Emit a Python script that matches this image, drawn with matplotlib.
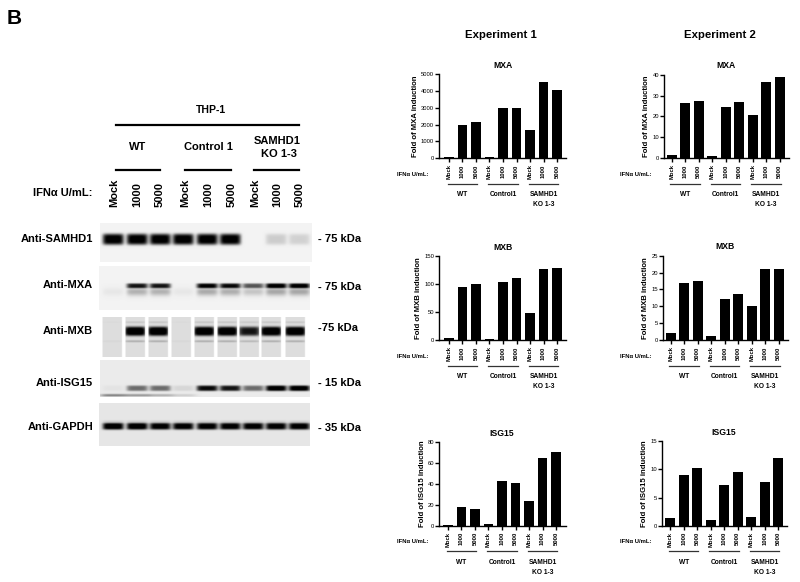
import matplotlib
matplotlib.use("Agg")
import matplotlib.pyplot as plt
import numpy as np

plt.rcParams["font.family"] = ["Liberation Sans", "DejaVu Sans"]

W, H = 800, 582

doses = ["Mock", "1000", "5000"] * 3
groups = ["WT", "Control1", "SAMHD1\nKO 1-3"]

mxa_exp1 = [40, 2000, 2180, 30, 2980, 2970, 1700, 4530, 4060]
mxa_exp2 = [1.3, 26.5, 27.5, 1.0, 24.8, 27.2, 20.5, 36.8, 39]
mxb_exp1 = [4, 95, 100, 2, 103, 110, 49, 126, 129]
mxb_exp2 = [2.2, 17, 17.4, 1.1, 12.3, 13.5, 10, 21, 21]
isg_exp1 = [0.3, 17.8, 15.5, 1.5, 42.5, 40.5, 24, 65, 70]
isg_exp2 = [1.4, 9, 10.2, 1.1, 7.2, 9.5, 1.5, 7.8, 12]

# band strength per lane on each blot, 0 = nothing, 1 = black
samhd1_bands = [1, 1, 1, 1, 1, 1, 0, 0.15, 0.13]
mxa_bands = [0, 0.85, 0.85, 0, 0.95, 0.9, 0.6, 1, 1]
mxb_bands = [0, 1, 1, 0, 1, 1, 0.8, 1, 1]
isg_bands = [0.03, 0.5, 0.5, 0.08, 0.9, 0.85, 0.5, 1, 1]
isg_lower = [0.45, 0.35, 0.25, 0.12, 0, 0, 0, 0, 0]
gapdh_bands = [1, 1, 0.95, 0.95, 0.95, 0.95, 0.95, 0.95, 0.95]
lanes = [113, 137, 160, 183, 207, 230, 253, 276, 299]
mxb_lanes = [112, 135, 158, 181, 204, 227, 249, 271, 295]

fig = plt.figure(figsize=(W / 100, H / 100), dpi=100)


def px_axes(x0, y0, x1, y1, **kw):
    return fig.add_axes([x0 / W, 1 - y1 / H, (x1 - x0) / W, (y1 - y0) / H], **kw)


page = px_axes(0, 0, W, H)
page.set_xlim(0, W)
page.set_ylim(H, 0)
page.axis("off")
page.set_zorder(5)


def blot(x0, y0, x1, y1, bands, band_y, band_h, side=(), bg=0.95, cols=lanes, strips=False, lower=None):
    xx, yy = np.meshgrid(np.arange(x0, x1, 0.5), np.arange(y0, y1, 0.5))
    img = np.full(xx.shape, bg)
    for i, (lane, level) in enumerate(zip(cols, bands)):
        dx = np.exp(-((xx - lane) / 10.5) ** 6)
        img -= level * dx * np.exp(-((yy - band_y) / band_h) ** 4)
        for dy, amount, h in side:
            img -= max(level, 0.15) * amount * dx * np.exp(-((yy - band_y - dy) / h) ** 2)
        if lower is not None:
            img -= lower[i] * np.exp(-((xx - lane) / 13) ** 4) * np.exp(-((yy - y1 + 2) / 1.2) ** 2)
    img = np.clip(img, 0, 1)
    if strips:
        gap = np.min([np.abs(xx - lane) for lane in cols], axis=0) > 9.8
        img[gap] = 1
    ax = px_axes(x0, y0, x1, y1)
    ax.imshow(img, cmap="gray", vmin=0, vmax=1, aspect="auto", interpolation="bilinear")
    ax.axis("off")


blot(100, 223, 312, 262, samhd1_bands, 239, 5.5)
blot(99, 266, 310, 310, mxa_bands, 285.5, 2.4, side=((6, 0.3, 4),), bg=0.95)
blot(102, 317, 308, 357, mxb_bands, 331, 4.6, side=((-9, 0.1, 1), (10, 0.2, 1)), bg=0.87, cols=mxb_lanes, strips=True)
blot(100, 360, 310, 397, isg_bands, 388, 2.8, bg=0.92, lower=isg_lower)
blot(99, 403, 310, 446, gapdh_bands, 426, 3.4, side=((-5, 0.08, 1),), bg=0.9)

page.text(7, 19, "B", fontsize=15, fontweight="bold", va="center")
page.text(211, 110, "THP-1", fontsize=7.5, fontweight="bold", ha="center", va="center")
page.plot([116, 299], [125, 125], color="black", lw=1.6)
for x, label in [(138, "WT"), (208, "Control 1")]:
    page.text(x, 147, label, fontsize=8, fontweight="bold", ha="center", va="center")
page.text(277, 140.5, "SAMHD1", fontsize=8, fontweight="bold", ha="center", va="center")
page.text(279, 154, "KO 1-3", fontsize=8, fontweight="bold", ha="center", va="center")
for a, b in [(116, 160), (185, 231), (254, 299)]:
    page.plot([a, b], [170, 170], color="black", lw=1.6)
page.text(92, 193, "IFNα U/mL:", fontsize=8, fontweight="bold", ha="right", va="center")
for x, label in zip([114, 137, 160, 185, 208, 232, 255, 277, 300], doses):
    page.text(x, 207, label, fontsize=8, fontweight="bold", rotation=90, ha="center", va="bottom")

row_labels = [("Anti-SAMHD1", 239), ("Anti-MXA", 285.5), ("Anti-MXB", 331.5), ("Anti-ISG15", 382.5), ("Anti-GAPDH", 426.5)]
for label, y in row_labels:
    page.text(93, y, label, fontsize=8, fontweight="bold", ha="right", va="center")
kda_labels = [("- 75 kDa", 239), ("- 75 kDa", 287), ("-75 kDa", 328), ("- 15 kDa", 383), ("- 35 kDa", 428)]
for label, y in kda_labels:
    page.text(318, y, label, fontsize=8, fontweight="bold", va="center")

page.text(501, 35, "Experiment 1", fontsize=8.2, fontweight="bold", ha="center", va="center")
page.text(720, 35, "Experiment 2", fontsize=8.2, fontweight="bold", ha="center", va="center")


def bar_panel(values, title, ylabel, ymax, ystep, left, right, top, bottom, first, ifn_x, title_x):
    step = 13.5
    ax = px_axes(left, top, right, bottom)
    x = np.arange(9)
    ax.bar(x, values, width=0.74, color="black")
    ax.set_xlim((left - first) / step, (right - first) / step)
    ax.set_ylim(0, ymax)
    ax.set_yticks(np.arange(0, ymax + ystep, ystep))
    ax.set_xticks(x)
    ax.set_xticklabels(doses, rotation=90, fontsize=4.2, fontweight="bold")
    ax.tick_params(axis="y", labelsize=4.2, length=3, width=1, pad=0.5)
    ax.tick_params(axis="x", length=3, width=1, pad=1.5)
    ax.spines["top"].set_visible(False)
    ax.spines["right"].set_visible(False)
    ax.spines["left"].set_linewidth(1)
    ax.spines["bottom"].set_linewidth(1)
    ax.set_ylabel(ylabel, fontsize=5.6, fontweight="bold", labelpad=1.5)

    page.text(title_x, top - 9, title, fontsize=6.2, fontweight="bold", ha="center", va="center")
    page.text(ifn_x, bottom + 16, "IFNα U/mL:", fontsize=4.2, fontweight="bold", va="center")
    for i, group in enumerate(groups):
        a = first + (3 * i) * step
        page.plot([a - 1.5, a + 2 * step + 1], [bottom + 25.5, bottom + 25.5], color="#333333", lw=0.9)
        page.text(a + step, bottom + 33, group, fontsize=4.8, fontweight="bold", ha="center", va="top", linespacing=1.6)


bar_panel(mxa_exp1, "MXA", "Fold of MXA induction", 5000, 1000, 439, 566, 74.3, 158, 449, 397, 503)
bar_panel(mxa_exp2, "MXA", "Fold of MXA induction", 40, 10, 664, 789, 75, 158, 671.7, 620, 726)
bar_panel(mxb_exp1, "MXB", "Fold of MXB induction", 150, 50, 439, 566, 256, 340, 449, 397, 503)
bar_panel(mxb_exp2, "MXB", "Fold of MXB induction", 25, 5, 663, 788, 255.7, 340, 670.7, 620, 725)
bar_panel(isg_exp1, "ISG15", "Fold of ISG15 induction", 80, 20, 439, 566, 442, 525.7, 448, 397, 502)
bar_panel(isg_exp2, "ISG15", "Fold of ISG15 induction", 15, 5, 662, 787, 441.3, 525.7, 670.3, 620, 724)

plt.savefig("out.png", dpi=100)
plt.close()
